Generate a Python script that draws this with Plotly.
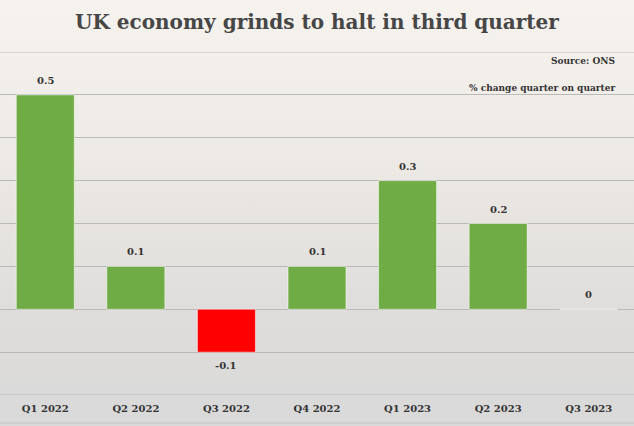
import base64
import plotly.graph_objects as go

# Datos del gráfico (ONS, % cambio trimestral)
quarters = ['Q1 2022', 'Q2 2022', 'Q3 2022', 'Q4 2022', 'Q1 2023', 'Q2 2023', 'Q3 2023']
growth = [0.5, 0.1, -0.1, 0.1, 0.3, 0.2, 0.0]
value_labels = ['0.5', '0.1', '-0.1', '0.1', '0.3', '0.2', '0']

GREEN = '#6fac46'
RED = '#ff0000'
TEXT = '#333333'
SERIF = 'DejaVu Serif'

W, H = 634, 426
TOP, BOTTOM = 52, 31

bar_colors = [GREEN if v >= 0 else RED for v in growth]

# Fondo: degradado claro en lugar de la foto de Londres
svg = """<svg xmlns='http://www.w3.org/2000/svg' width='634' height='426'>
<defs><linearGradient id='g' x1='0' y1='0' x2='0' y2='1'>
<stop offset='0' stop-color='#f6f3ef'/>
<stop offset='0.35' stop-color='#eeeae5'/>
<stop offset='0.7' stop-color='#e0dedc'/>
<stop offset='1' stop-color='#d9d9d9'/>
</linearGradient></defs>
<rect width='634' height='426' fill='url(#g)'/></svg>"""
bg_src = 'data:image/svg+xml;base64,' + base64.b64encode(svg.encode()).decode()

fig = go.Figure()
fig.add_trace(go.Bar(
    x=quarters, y=growth,
    marker=dict(color=bar_colors, line=dict(color='rgba(255,255,255,0.5)', width=1)),
    hoverinfo='skip', showlegend=False,
))

# Etiquetas de valor sobre/bajo cada barra
for q, v, lab in zip(quarters, growth, value_labels):
    fig.add_annotation(
        x=q, y=v, text='<b>' + lab + '</b>', showarrow=False,
        yanchor='bottom' if v >= 0 else 'top',
        yshift=7 if v >= 0 else -6,
        font=dict(family=SERIF, size=10, color=TEXT),
    )

plot_h = H - TOP - BOTTOM

fig.add_annotation(
    text='<b>UK economy grinds to halt in third quarter</b>',
    xref='paper', yref='paper', x=0.5, y=1 + (TOP - 22) / plot_h,
    xanchor='center', yanchor='middle', showarrow=False,
    font=dict(family=SERIF, size=20, color='#464646'),
)
fig.add_annotation(
    text='<b>Source: ONS</b>', xref='paper', yref='paper',
    x=617 / W, y=1 - (61 - TOP) / plot_h, xanchor='right', yanchor='middle',
    showarrow=False, font=dict(family=SERIF, size=9, color=TEXT),
)
fig.add_annotation(
    text='<b>% change quarter on quarter</b>', xref='paper', yref='paper',
    x=617 / W, y=1 - (88 - TOP) / plot_h, xanchor='right', yanchor='middle',
    showarrow=False, font=dict(family=SERIF, size=9, color=TEXT),
)

# Líneas en los extremos del eje (0.6 y -0.2) y línea inferior
fig.add_hline(y=0.6, line=dict(color='#b9b9b9', width=1))
fig.add_hline(y=-0.2, line=dict(color='#b9b9b9', width=1))
fig.add_shape(type='line', xref='paper', yref='paper', x0=0, x1=1,
              y0=-(423 - (H - BOTTOM)) / plot_h, y1=-(423 - (H - BOTTOM)) / plot_h,
              line=dict(color='#c4c4c4', width=1))

fig.add_layout_image(dict(
    source=bg_src, xref='paper', yref='paper',
    x=0, y=1 + TOP / plot_h, sizex=1, sizey=H / plot_h,
    xanchor='left', yanchor='top', sizing='stretch', layer='below',
))

fig.update_layout(
    width=W, height=H,
    margin=dict(l=0, r=0, t=TOP, b=BOTTOM),
    paper_bgcolor='#eeebe7', plot_bgcolor='rgba(0,0,0,0)',
    bargap=0.36,
    xaxis=dict(showgrid=False, showline=False, ticks='',
               tickprefix='<b>', ticksuffix='</b>', ticklabelstandoff=6,
               tickfont=dict(family=SERIF, size=10, color=TEXT)),
    yaxis=dict(range=[-0.2, 0.6], dtick=0.1, tick0=0, showticklabels=False,
               showgrid=True, gridcolor='#b9b9b9', gridwidth=1,
               zeroline=True, zerolinecolor='#b9b9b9', zerolinewidth=1),
)

# quitar el margen del body para que la figura llene la ventana
fig.write_html('out.html', config={'displayModeBar': False},
               post_script="document.body.style.margin='0';")
